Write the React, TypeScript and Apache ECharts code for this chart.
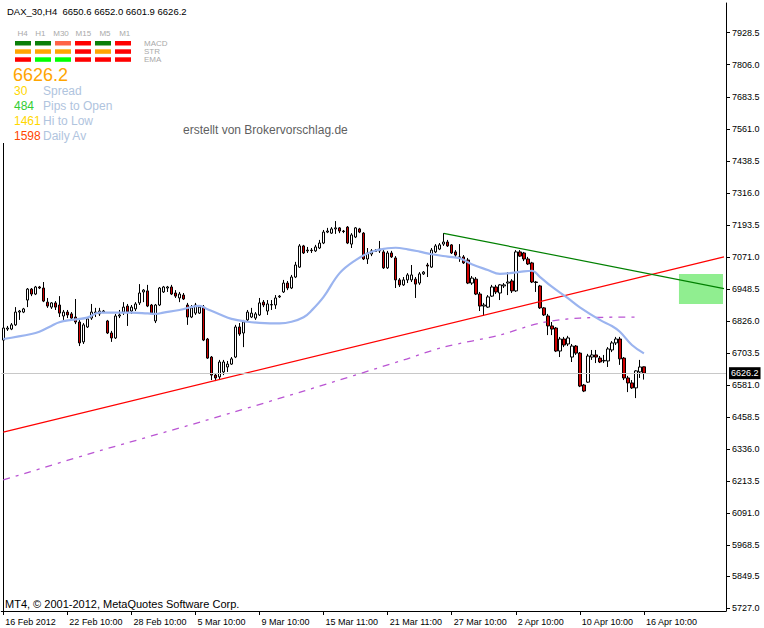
import React, { useEffect, useRef } from 'react';
import * as echarts from 'echarts';

const symbolName = 'DAX_30,H4';
const lastBar = { open: 6650.6, high: 6652.0, low: 6601.9, close: 6626.2 };
const lastPrice = 6626.2;
const barSlots = 181;
const xTickLabels = ['16 Feb 2012', '22 Feb 10:00', '28 Feb 10:00', '5 Mar 10:00', '9 Mar 10:00', '15 Mar 11:00', '21 Mar 11:00', '27 Mar 10:00', '2 Apr 10:00', '10 Apr 10:00', '16 Apr 10:00'];
const yTickValues = [5727.0, 5849.5, 5968.5, 6091.0, 6213.5, 6336.0, 6458.5, 6581.0, 6703.5, 6826.0, 6948.5, 7071.0, 7193.5, 7316.0, 7438.5, 7561.0, 7683.5, 7806.0, 7928.5];
const yMin = 5716.7;
const yMax = 8042.1;

// [open, close, low, high]
const candles = [
  [6753, 6799, 6746, 6807], [6795, 6799, 6788, 6807], [6795, 6811, 6791, 6818], [6811, 6860, 6807, 6879],
  [6860, 6864, 6830, 6868], [6860, 6872, 6856, 6876], [6906, 6948, 6879, 6952], [6948, 6929, 6921, 6952],
  [6929, 6956, 6925, 6960], [6956, 6952, 6948, 6960], [6952, 6902, 6898, 6975], [6898, 6883, 6876, 6914],
  [6879, 6895, 6872, 6898], [6895, 6879, 6868, 6902], [6887, 6856, 6841, 6921], [6845, 6860, 6830, 6868],
  [6860, 6849, 6837, 6868], [6853, 6837, 6830, 6860], [6841, 6822, 6814, 6910], [6822, 6742, 6730, 6830],
  [6746, 6811, 6738, 6818], [6803, 6834, 6799, 6837], [6837, 6860, 6830, 6891], [6856, 6860, 6841, 6876],
  [6853, 6864, 6845, 6876], [6860, 6864, 6856, 6868], [6826, 6780, 6776, 6830], [6780, 6761, 6746, 6788],
  [6761, 6845, 6757, 6853], [6845, 6849, 6837, 6868], [6860, 6879, 6849, 6898], [6883, 6860, 6807, 6891],
  [6864, 6879, 6853, 6887], [6872, 6891, 6864, 6898], [6895, 6933, 6887, 6967], [6937, 6944, 6898, 6948],
  [6941, 6883, 6879, 6964], [6887, 6856, 6853, 6891], [6826, 6887, 6818, 6891], [6887, 6952, 6883, 6956],
  [6937, 6956, 6933, 6960], [6952, 6956, 6937, 6960], [6956, 6929, 6925, 6964], [6933, 6921, 6914, 6944],
  [6914, 6929, 6898, 6937], [6925, 6910, 6906, 6933], [6887, 6841, 6811, 6895], [6841, 6876, 6837, 6887],
  [6856, 6887, 6849, 6895], [6856, 6879, 6853, 6887], [6879, 6753, 6749, 6887], [6757, 6684, 6681, 6761],
  [6688, 6619, 6600, 6692], [6619, 6608, 6596, 6627], [6612, 6669, 6600, 6677], [6631, 6669, 6619, 6677],
  [6650, 6661, 6631, 6673], [6661, 6681, 6658, 6688], [6688, 6803, 6684, 6811], [6803, 6776, 6769, 6818],
  [6780, 6822, 6726, 6830], [6830, 6860, 6822, 6868], [6841, 6856, 6837, 6876], [6837, 6853, 6830, 6860],
  [6849, 6895, 6845, 6914], [6898, 6887, 6879, 6906], [6864, 6891, 6849, 6906], [6887, 6889, 6868, 6906],
  [6887, 6914, 6872, 6925], [6918, 6921, 6914, 6925], [6937, 6971, 6933, 6983], [6971, 6952, 6944, 6979],
  [6952, 6994, 6948, 7002], [6994, 7040, 6990, 7052], [7032, 7113, 7029, 7120], [7113, 7086, 7082, 7117],
  [7094, 7097, 7086, 7109], [7097, 7095, 7086, 7105], [7094, 7109, 7090, 7117], [7105, 7124, 7101, 7136],
  [7124, 7166, 7120, 7174], [7166, 7170, 7162, 7182], [7162, 7178, 7159, 7185], [7178, 7182, 7159, 7208],
  [7182, 7170, 7162, 7185], [7170, 7168, 7162, 7174], [7185, 7124, 7120, 7189], [7120, 7155, 7105, 7162],
  [7147, 7182, 7143, 7185], [7178, 7166, 7162, 7182], [7162, 7063, 7059, 7166], [7063, 7086, 7044, 7105],
  [7082, 7094, 7074, 7101], [7094, 7092, 7090, 7101], [7094, 7101, 7086, 7132], [7090, 7029, 7025, 7097],
  [7029, 7086, 7025, 7094], [7086, 7071, 7067, 7094], [7067, 6983, 6952, 7074], [6983, 6964, 6956, 6990],
  [6964, 6983, 6960, 6994], [6983, 7002, 6971, 7009], [6983, 7002, 6975, 7040], [6986, 6967, 6914, 6994],
  [6971, 7006, 6964, 7013], [7006, 7013, 7002, 7017], [7040, 7036, 6994, 7048], [7032, 7097, 7029, 7105],
  [7090, 7113, 7086, 7120], [7101, 7117, 7097, 7124], [7120, 7128, 7113, 7162], [7128, 7113, 7109, 7136],
  [7117, 7086, 7082, 7120], [7090, 7078, 7071, 7097], [7071, 7067, 7052, 7120], [7071, 7048, 7044, 7078],
  [7059, 6971, 6967, 7067], [6971, 6990, 6964, 6998], [6986, 6929, 6925, 6994], [6929, 6883, 6864, 6937],
  [6883, 6887, 6845, 6895], [6879, 6918, 6876, 6925], [6921, 6956, 6918, 6964], [6956, 6937, 6929, 6964],
  [6933, 6964, 6906, 6967], [6960, 6964, 6952, 6971], [6971, 6975, 6925, 7013], [6979, 6941, 6933, 6986],
  [6941, 7090, 6937, 7097], [7090, 7074, 7071, 7097], [7086, 7063, 7055, 7090], [7063, 7044, 7040, 7071],
  [7048, 6975, 6971, 7052], [6975, 6973, 6937, 6979], [6960, 6876, 6872, 6964], [6876, 6849, 6845, 6879],
  [6845, 6807, 6772, 6853], [6807, 6795, 6772, 6822], [6799, 6711, 6707, 6803], [6711, 6757, 6688, 6765],
  [6757, 6734, 6726, 6765], [6738, 6761, 6730, 6769], [6688, 6730, 6669, 6738], [6730, 6703, 6696, 6734],
  [6703, 6577, 6573, 6707], [6581, 6558, 6554, 6585], [6592, 6692, 6589, 6700], [6688, 6696, 6677, 6715],
  [6696, 6688, 6665, 6715], [6684, 6669, 6665, 6692], [6673, 6675, 6665, 6696], [6673, 6719, 6650, 6726],
  [6715, 6742, 6707, 6749], [6742, 6757, 6734, 6765], [6757, 6681, 6658, 6765], [6684, 6608, 6600, 6688],
  [6608, 6589, 6554, 6616], [6589, 6570, 6566, 6600], [6570, 6635, 6531, 6638], [6631, 6650, 6608, 6677],
  [6650.6, 6626.2, 6601.9, 6652.0],
];

// [bar index, value]
const maFast = [
  [0, 6757], [7, 6776], [9, 6785], [12, 6807], [14, 6821], [17, 6830], [21, 6839], [24, 6858],
  [32, 6858], [36, 6855], [38, 6853], [40, 6858], [44, 6868], [49, 6884], [51, 6871], [54, 6852],
  [57, 6834], [61, 6823], [64, 6819], [69, 6817], [72, 6823], [75, 6840], [77, 6866], [80, 6918],
  [84, 7009], [88, 7059], [92, 7091], [96, 7104], [98, 7106], [101, 7100], [104, 7091], [107, 7081],
  [111, 7072], [114, 7066], [117, 7043], [121, 7021], [124, 7006], [129, 7014], [132, 7018], [134, 6995],
  [137, 6957], [141, 6913], [144, 6878], [149, 6830], [152, 6807], [154, 6785], [157, 6734], [160, 6702],
];
const maSlow = [
  [0, 6218], [24, 6329], [50, 6443], [75, 6558], [100, 6677], [110, 6726], [124, 6772], [134, 6818], [144, 6837], [159, 6841],
];
const supportLine = [[0, 6401], [180, 7071]];
const resistanceLine = [[110, 7161], [180, 6950]];
// [fromBar, toBar, low, high]
const targetZone = [[169, 180, 6891, 7006]];

const timeframes = ['H4', 'H1', 'M30', 'M15', 'M5', 'M1'];
const signalNames = ['MACD', 'STR', 'EMA'];
const macdSignals = ['up', 'up', 'weakDown', 'down', 'up', 'down'];
const strSignals = ['neutral', 'neutral', 'neutral', 'down', 'neutral', 'down'];
const emaSignals = ['down', 'upStrong', 'upStrong', 'down', 'down', 'down'];
const statValues = ['30', '484', '1461', '1598'];
const statLabels = ['Spread', 'Pips to Open', 'Hi to Low', 'Daily Av'];
const creditText = 'erstellt von Brokervorschlag.de';
const copyrightText = 'MT4, \u00A9 2001-2012, MetaQuotes Software Corp.';

const FONT = '"Liberation Sans", Arial, sans-serif';
const signalColors: Record<string, string> = {
  up: '#0a7f0a', down: '#ff0000', weakDown: '#ff6347', neutral: '#ffa500', upStrong: '#00ff00',
};
const statColors = ['#ffd700', '#32cd32', '#ffd700', '#ff4500'];

export default function App() {
  const ref = useRef<HTMLDivElement>(null);
  useEffect(() => {
    if (!ref.current) return;
    const chart = echarts.init(ref.current, null, { renderer: 'svg' });
    const categories = Array.from({ length: barSlots }, (_, i) =>
      i % 16 === 0 && i / 16 < xTickLabels.length ? xTickLabels[i / 16] : ''
    );
    const showTick = (i: number, v: string) => v !== '';

    const graphic: any[] = [];
    const txt = (x: number, y: number, text: string, fill: string, size: number, align = 'left') => ({
      type: 'text', x, y, silent: true,
      style: { text, fill, font: `${size}px ${FONT}`, align, verticalAlign: 'middle', textAlign: align, textVerticalAlign: 'middle' },
    });
    graphic.push({ type: 'line', shape: { x1: 3.5, y1: 143, x2: 3.5, y2: 611 }, style: { stroke: '#000', lineWidth: 1 }, silent: true });
    graphic.push(txt(7, 11, `${symbolName}  ${lastBar.open.toFixed(1)} ${lastBar.high.toFixed(1)} ${lastBar.low.toFixed(1)} ${lastBar.close.toFixed(1)}`, '#000', 9.5));
    const tfX = [22.7, 40.3, 61, 83.3, 105, 124.7];
    timeframes.forEach((t, k) => graphic.push(txt(tfX[k], 33.5, t, '#a9a9a9', 8, 'center')));
    const rows = [macdSignals, strSignals, emaSignals];
    const rowY = [41, 49.3, 57.3];
    rows.forEach((row, r) => {
      row.forEach((s, k) => graphic.push({
        type: 'rect', silent: true, shape: { x: 15 + 20 * k, y: rowY[r], width: 16, height: 4.5 }, style: { fill: signalColors[s] },
      }));
      graphic.push(txt(144, rowY[r] + 2.3, signalNames[r], '#a9a9a9', 8));
    });
    graphic.push(txt(13, 74.5, lastPrice.toFixed(1), '#ffa500', 18));
    statValues.forEach((v, k) => {
      const y = 91 + 15 * k;
      graphic.push(txt(14, y, v, statColors[k], 12));
      graphic.push(txt(43, y, statLabels[k], '#b0c4de', 12));
    });
    graphic.push(txt(183, 130, creditText, '#5f5f5f', 12));
    graphic.push(txt(5, 604, copyrightText, '#000', 11));

    chart.setOption({
      animation: false,
      backgroundColor: '#fff',
      textStyle: { fontFamily: FONT },
      grid: { left: 1.3, right: 38, top: 3, bottom: 17, containLabel: false, outerBoundsMode: 'none' },
      xAxis: {
        type: 'category', data: categories, boundaryGap: true,
        axisLine: { show: true, lineStyle: { color: '#000', width: 1 } },
        axisTick: { show: true, alignWithLabel: true, interval: showTick, length: 4, lineStyle: { color: '#000' } },
        axisLabel: { interval: showTick, align: 'left', padding: [0, 0, 0, 2], margin: 6, color: '#000', fontSize: 9, fontFamily: FONT },
        splitLine: { show: false },
      },
      yAxis: {
        type: 'value', position: 'right', min: yMin, max: yMax, scale: true,
        axisLine: { show: true, lineStyle: { color: '#000', width: 1 } },
        axisTick: { show: true, length: 4, customValues: yTickValues, lineStyle: { color: '#000' } },
        axisLabel: { customValues: yTickValues, formatter: (v: number) => v.toFixed(1), margin: 6, color: '#000', fontSize: 9, fontFamily: FONT },
        splitLine: { show: false },
      },
      series: [
        {
          type: 'custom', z: 1,
          renderItem: (params: any, api: any) => {
            const p1 = api.coord([api.value(0), api.value(3)]);
            const p2 = api.coord([api.value(1), api.value(2)]);
            return { type: 'rect', shape: { x: p1[0] - 1, y: p1[1], width: p2[0] - p1[0], height: p2[1] - p1[1] }, style: { fill: '#90ee90' } };
          },
          encode: { x: [0, 1], y: [2, 3] },
          data: targetZone,
          silent: true,
        },
        {
          type: 'candlestick', z: 3, barWidth: 3, data: candles, silent: true,
          itemStyle: { color: '#ffffff', color0: '#d00000', borderColor: '#000', borderColor0: '#000', borderWidth: 1 },
          markLine: {
            silent: true, symbol: ['none', 'none'], animation: false,
            lineStyle: { color: '#c8c8c8', width: 1, type: 'solid' },
            label: { show: true, position: 'end', formatter: lastPrice.toFixed(1), backgroundColor: '#000', color: '#fff', padding: [2, 2, 1, 2], fontSize: 9, fontFamily: FONT, distance: 3 },
            data: [{ yAxis: lastPrice }],
          },
        },
        { type: 'line', z: 4, data: supportLine, symbol: 'none', silent: true, lineStyle: { color: '#ff0000', width: 1.2 } },
        { type: 'line', z: 4, data: resistanceLine, symbol: 'none', silent: true, lineStyle: { color: '#008000', width: 1.2 } },
        { type: 'line', z: 5, data: maSlow, symbol: 'none', smooth: 0.3, silent: true, lineStyle: { color: '#ba55d3', width: 1.3, type: [7, 6, 3, 6] } },
        { type: 'line', z: 5, data: maFast, symbol: 'none', smooth: 0.4, silent: true, lineStyle: { color: '#9bb4ef', width: 2.2 } },
      ],
      graphic,
    });
    return () => chart.dispose();
  }, []);
  return <div ref={ref} style={{ width: 764, height: 628, position: 'absolute', left: 0, top: 0 }} />;
}
